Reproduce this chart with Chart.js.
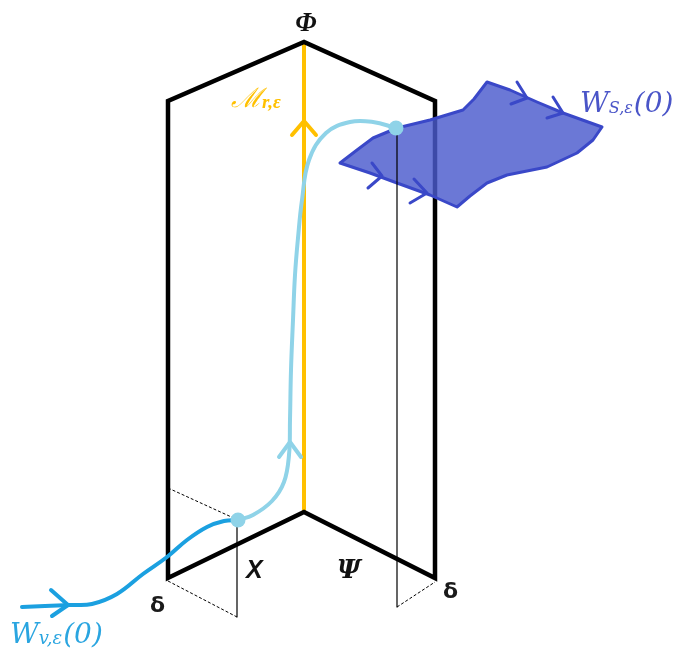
<!DOCTYPE html>
<html>
<head>
<meta charset="utf-8">
<script src="https://cdn.jsdelivr.net/npm/chart.js@4.4.1/dist/chart.umd.min.js"></script>
<style>
  html, body { margin: 0; padding: 0; background: #fff; }
  #wrap { width: 684px; height: 661px; position: relative; }
</style>
</head>
<body>
<div id="wrap"><canvas id="diagram"></canvas></div>
<script>
// the two half-planes (x, y in picture units, y grows downward)
const frame = [[168, 300], [168, 101], [304, 42], [435, 101], [435, 578], [304, 512], [168, 578], [168, 300]];
const slowManifold = [[304, 512], [304, 44]];

// thin section planes at distance delta
const leftPlaneTop = [[168, 488], [238, 520]];
const leftPlaneBottom = [[168, 581], [237, 617]];
const leftPlaneEdge = [[237, 520], [237, 617]];
const rightPlaneEdge = [[397, 128], [397, 607]];
const rightPlaneBottom = [[397, 607], [435, 582]];

// trajectories
const unstableCurve = [[22, 607], [45, 606], [70, 605], [92, 604], [117, 594], [143, 574], [167, 557], [187, 540], [207, 527], [224, 521], [238, 520]];
const orbitCurve = [[238, 520], [253, 515], [272, 501], [284, 482], [289, 455], [290, 420], [291, 370], [293, 320], [295, 275], [298, 238], [302, 200], [309, 160], [326, 133], [350, 122], [373, 122], [396, 128]];
const entryPoints = [[238, 520], [396, 128]];

// stable manifold sheet
const stableSheet = [[340, 163], [357, 150], [373, 138], [397, 128], [430, 120], [463, 110], [474, 99], [487, 82],
  [510, 90], [537, 102], [563, 113], [602, 127], [593, 140], [577, 153], [547, 167], [507, 175], [487, 183],
  [470, 196], [457, 207], [430, 195], [397, 183], [370, 173], [340, 163]];

// arrow heads along the flows
const arrowSlow = [[292, 135], [304, 121], [316, 135]];
const arrowOrbit = [[279, 457], [290, 442], [301, 457]];
const arrowUnstable = [[51, 590], [68, 605], [52, 616]];
const arrowSheet1 = [[517, 82], [527, 98], [511, 104]];
const arrowSheet2 = [[553, 97], [563, 113], [547, 118]];
const arrowSheet3 = [[372, 163], [382, 176], [368, 188]];
const arrowSheet4 = [[414, 179], [427, 193], [410, 203]];

const pts = arr => arr.map(p => ({ x: p[0], y: p[1] }));

const black = '#000000';
const yellow = '#FFC000';
const lightBlue = '#8FD3E8';
const darkBlue = '#1BA0E0';
const sheetLine = '#3A48C8';

function line(data, color, width, extra) {
  return Object.assign({
    data: pts(data),
    showLine: true,
    borderColor: color,
    backgroundColor: color,
    borderWidth: width,
    pointRadius: 0,
    tension: 0,
    fill: false,
    borderCapStyle: 'round',
    borderJoinStyle: 'round'
  }, extra || {});
}

// listed bottom to top
const datasets = [
  line(leftPlaneTop, black, 1, { borderDash: [3, 2], borderCapStyle: 'butt' }),
  line(leftPlaneBottom, black, 1, { borderDash: [3, 2], borderCapStyle: 'butt' }),
  line(rightPlaneBottom, black, 1, { borderDash: [3, 2], borderCapStyle: 'butt' }),
  line(leftPlaneEdge, black, 1.2, { borderCapStyle: 'butt' }),
  line(slowManifold, yellow, 4, { borderCapStyle: 'butt' }),
  line(frame, black, 4.5, { borderJoinStyle: 'miter', borderCapStyle: 'butt' }),
  line(unstableCurve, darkBlue, 4, { tension: 0.4 }),
  line(orbitCurve, lightBlue, 4, { tension: 0.4 }),
  line(stableSheet, sheetLine, 3, { fill: 'shape', backgroundColor: 'rgba(75, 90, 205, 0.82)' }),
  line(rightPlaneEdge, black, 1.2, { borderCapStyle: 'butt' }),
  line(arrowSlow, yellow, 4),
  line(arrowOrbit, lightBlue, 4),
  line(arrowUnstable, darkBlue, 4),
  line(arrowSheet1, sheetLine, 3),
  line(arrowSheet2, sheetLine, 3),
  line(arrowSheet3, sheetLine, 3),
  line(arrowSheet4, sheetLine, 3),
  {
    data: pts(entryPoints),
    showLine: false,
    pointRadius: 7.5,
    pointBackgroundColor: lightBlue,
    pointBorderWidth: 0
  }
];
datasets.forEach((d, i) => { d.order = datasets.length - i; });

// text labels
const labels = [
  { main: 'Φ', sub: '', tail: '', x: 306, y: 31, color: '#111', font: 'italic bold 27px "Liberation Serif"', center: true },
  { main: 'ℳ', sub: 'r,ε', tail: '', x: 231, y: 107, color: yellow, font: 'italic 27px "DejaVu Serif"', subFont: 'italic bold 19px "Liberation Serif"' },
  { main: 'W', sub: 'S,ε', tail: '(0)', x: 580, y: 112, color: '#4A55C8', font: 'italic 28px "DejaVu Serif"', subFont: 'italic 16px "DejaVu Serif"' },
  { main: 'W', sub: 'v,ε', tail: '(0)', x: 10, y: 643, color: '#2AA5E0', font: 'italic 28px "DejaVu Serif"', subFont: 'italic 18px "DejaVu Serif"' },
  { main: 'X', sub: '', tail: '', x: 246, y: 578, color: '#111', font: 'italic bold 25px "Liberation Sans"' },
  { main: 'Ψ', sub: '', tail: '', x: 337, y: 578, color: '#111', font: 'italic bold 26px "DejaVu Serif"' },
  { main: 'δ', sub: '', tail: '', x: 150, y: 612, color: '#1a1a1a', font: 'bold 22px "DejaVu Sans"' },
  { main: 'δ', sub: '', tail: '', x: 443, y: 598, color: '#1a1a1a', font: 'bold 22px "DejaVu Sans"' }
];

const labelPlugin = {
  id: 'labels',
  afterDatasetsDraw(chart) {
    const ctx = chart.ctx;
    const xs = chart.scales.x, ys = chart.scales.y;
    ctx.save();
    ctx.textBaseline = 'alphabetic';
    labels.forEach(l => {
      let px = xs.getPixelForValue(l.x);
      const py = ys.getPixelForValue(l.y);
      ctx.fillStyle = l.color;
      ctx.textAlign = l.center ? 'center' : 'left';
      ctx.font = l.font;
      ctx.fillText(l.main, px, py);
      if (l.center) return;
      px += ctx.measureText(l.main).width;
      if (l.sub) {
        ctx.font = l.subFont;
        ctx.fillText(l.sub, px, py + 1);
        px += ctx.measureText(l.sub).width + 1;
      }
      if (l.tail) {
        ctx.font = l.font;
        ctx.fillText(l.tail, px, py);
      }
    });
    ctx.restore();
  }
};

new Chart(document.getElementById('diagram').getContext('2d'), {
  type: 'scatter',
  data: { datasets: datasets },
  options: {
    responsive: true,
    maintainAspectRatio: false,
    animation: false,
    layout: { padding: 0, autoPadding: false },
    plugins: { legend: { display: false }, tooltip: { enabled: false } },
    scales: {
      x: { type: 'linear', min: 0, max: 684, display: false },
      y: { type: 'linear', min: 0, max: 661, reverse: true, display: false }
    }
  },
  plugins: [labelPlugin]
});
</script>
</body>
</html>
